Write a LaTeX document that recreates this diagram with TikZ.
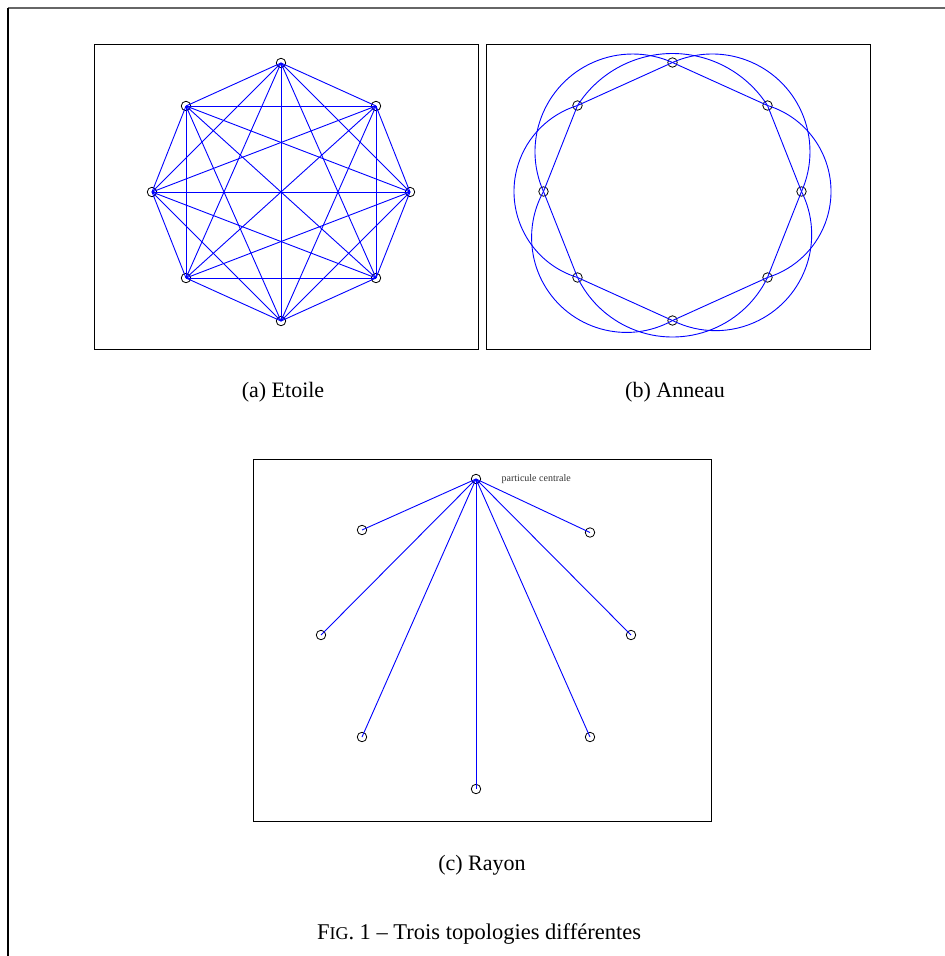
\documentclass[tikz,border=0pt]{standalone}
\usepackage{fontspec}
\setmainfont{Liberation Serif}
\usetikzlibrary{positioning}
\tikzset{
  particule/.style={circle, draw=black, inner sep=0pt, minimum size=9.5pt, line width=0.8pt},
  lien/.style={draw=blue, line width=0.9pt},
  cadre/.style={draw=black, line width=1pt},
  legende/.style={font=\fontsize{22}{26}\selectfont},
}

\begin{document}
\begin{tikzpicture}[x=1pt,y=-1pt]
\useasboundingbox (0,0) rectangle (945,956);
\draw[black!60, line width=1.5pt] (8,8) -- (945,8);
\draw[line width=1.2pt] (8,8) -- (8,956);

% (a) etoile
\draw[cadre] (94,44) rectangle (478,349);
\begin{scope}[shift={(281,192)}]
\foreach \i/\x/\y in {1/129/0, 2/95/86, 3/0/129, 4/-95/86, 5/-129/0, 6/-95/-86, 7/0/-129, 8/95/-86}
  \node[particule] (a\i) at (\x,\y) {};
\foreach \i in {1,...,7}{
  \pgfmathtruncatemacro{\k}{\i+1}
  \foreach \j in {\k,...,8}
    \draw[lien] (a\i.center) -- (a\j.center);
}
\end{scope}
\node[legende] (capa) at (283,392) {(a) Etoile};

% (b) anneau
\draw[cadre] (486,44) rectangle (870,349);
\begin{scope}[shift={(672.5,191.5)}]
\foreach \i/\x/\y in {1/129/0, 2/95/86, 3/0/129, 4/-95/86, 5/-129/0, 6/-95/-86, 7/0/-129, 8/95/-86}
  \node[particule] (b\i) at (\x,\y) {};
\foreach \i in {1,...,8}{
  \pgfmathtruncatemacro{\n}{mod(\i,8)+1}
  \draw[lien] (b\i.center) -- (b\n.center);
}
% voisinages : arc de b(i-1) a b(i+1)
\foreach \i/\ang/\a/\b/\ext in {1/0/0.95/0.86/1.585, 2/45/0.9122/0.9122/1.57, 3/90/0.86/0.95/1.455,
    4/135/0.9122/0.9122/1.60, 5/180/0.95/0.86/1.585, 6/225/0.9122/0.9122/1.54,
    7/270/0.86/0.95/1.38, 8/315/0.9122/0.9122/1.54}{
  \pgfmathtruncatemacro{\p}{mod(\i+6,8)+1}
  \pgfmathsetmacro{\dc}{(\ext*\ext-\a*\a-\b*\b)/(2*\ext-2*\a)}
  \pgfmathsetmacro{\rc}{100*(\ext-\dc)}
  \pgfmathsetmacro{\de}{atan2(100*\b, 100*(\a-\dc))}
  \draw[lien] (b\p.center) arc[start angle=\ang-\de, end angle=\ang+\de, radius=\rc];
}
\end{scope}
\node[legende] (capb) at (675,392) {(b) Anneau};

% (c) rayon
\draw[cadre] (253,459) rectangle (711,821);
\node[particule] (c0) at (476,479) {};
\node[particule] (c1) at (362,530) {};
\node[particule] (c2) at (590,532.5) {};
\node[particule] (c3) at (321,635) {};
\node[particule] (c4) at (631,635) {};
\node[particule] (c5) at (362,737) {};
\node[particule] (c6) at (590,737) {};
\node[particule] (c7) at (476,789) {};
\foreach \i in {1,...,7}
  \draw[lien] (c0.center) -- (c\i.center);
\node[right=17pt of c0, font=\fontsize{10}{12}\selectfont, text=black!80] (centre) {particule centrale};
\node[legende] (capc) at (482,865) {(c) Rayon};

\node[font=\fontsize{22.5}{26}\selectfont] (fig) at (479,934)
  {F{\fontsize{18}{20}\selectfont IG}. 1 -- Trois topologies différentes};
\end{tikzpicture}
\end{document}
